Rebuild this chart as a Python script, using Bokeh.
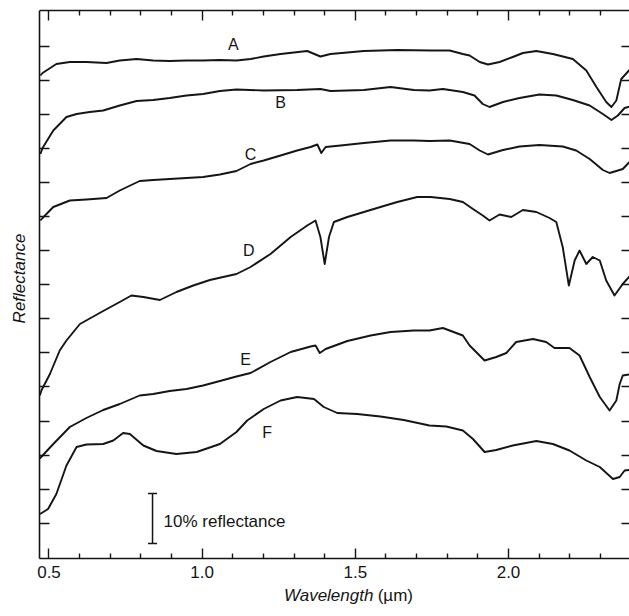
from bokeh.plotting import figure
from bokeh.models import (FixedTicker, LinearAxis, Label, Range1d, NumeralTickFormatter,
                          CustomJSTickFormatter)
from bokeh.core.properties import value
from bokeh.embed import file_html
from bokeh.resources import INLINE
import math

# ---------------- data ----------------
# wavelength in micrometres, reflectance in % (curves offset vertically)
wl_A = [0.472, 0.479, 0.524, 0.568, 0.622, 0.688, 0.731, 0.786, 0.840, 0.894, 0.949, 1.003, 1.057, 1.112,
        1.158, 1.201, 1.256, 1.343, 1.386, 1.419, 1.528, 1.637, 1.746, 1.808, 1.851, 1.873, 1.906,
        1.933, 1.971, 2.014, 2.047, 2.091, 2.145, 2.210, 2.254, 2.287, 2.319, 2.336, 2.352, 2.368, 2.395]
refl_A = [96.6, 97.1, 98.9, 99.3, 99.3, 99.1, 99.6, 99.9, 99.6, 99.5, 99.6, 99.6, 99.7, 99.6,
          99.9, 100.4, 100.9, 101.5, 100.4, 100.9, 101.5, 101.7, 101.6, 101.6, 100.9, 100.6, 99.3,
          98.8, 99.3, 100.3, 101.1, 101.5, 100.9, 99.9, 97.6, 94.3, 91.3, 90.3, 91.6, 95.9, 97.7]

wl_B = [0.472, 0.479, 0.514, 0.557, 0.590, 0.633, 0.677, 0.731, 0.786, 0.840, 0.894, 0.949, 1.003, 1.058,
        1.112, 1.201, 1.310, 1.386, 1.419, 1.528, 1.615, 1.691, 1.742, 1.786, 1.851, 1.889, 1.916,
        1.938, 1.982, 2.036, 2.101, 2.156, 2.210, 2.265, 2.308, 2.336, 2.357, 2.379, 2.395]
refl_B = [80.9, 82.1, 85.6, 88.3, 88.9, 89.3, 89.6, 90.6, 91.5, 91.7, 92.1, 92.6, 92.9, 93.5,
          93.8, 93.6, 93.7, 93.9, 93.5, 93.7, 94.3, 93.7, 93.6, 93.9, 93.3, 92.6, 90.9,
          90.3, 91.3, 92.1, 92.8, 92.6, 91.7, 90.6, 88.9, 87.7, 88.6, 90.1, 90.4]

wl_C = [0.472, 0.479, 0.514, 0.568, 0.622, 0.688, 0.731, 0.796, 0.840, 0.894, 0.949, 1.003, 1.058, 1.112,
        1.158, 1.201, 1.256, 1.310, 1.354, 1.376, 1.389, 1.403, 1.452, 1.528, 1.615, 1.691, 1.742,
        1.808, 1.873, 1.906, 1.933, 1.982, 2.036, 2.101, 2.177, 2.221, 2.265, 2.308, 2.330, 2.352,
        2.373, 2.395]
refl_C = [67.6, 68.1, 70.3, 71.6, 71.8, 72.1, 73.6, 75.5, 75.7, 75.9, 76.1, 76.3, 76.8, 77.5,
          78.9, 79.6, 80.6, 81.6, 82.3, 82.8, 81.1, 82.3, 82.6, 83.1, 83.6, 83.6, 83.5,
          83.6, 82.9, 81.6, 80.8, 81.7, 82.4, 82.7, 82.4, 81.6, 79.9, 77.7, 77.1, 77.5,
          77.9, 79.3]

wl_D = [0.470, 0.476, 0.503, 0.535, 0.557, 0.601, 0.677, 0.731, 0.769, 0.808, 0.862, 0.916, 0.971, 1.025,
        1.112, 1.158, 1.223, 1.289, 1.343, 1.370, 1.386, 1.400, 1.414, 1.430, 1.474, 1.528, 1.582,
        1.637, 1.702, 1.746, 1.808, 1.851, 1.884, 1.916, 1.938, 1.971, 2.009, 2.047, 2.091, 2.134,
        2.156, 2.177, 2.197, 2.216, 2.232, 2.254, 2.275, 2.298, 2.319, 2.346, 2.373, 2.395]
refl_D = [32.6, 33.7, 36.9, 41.6, 43.6, 46.9, 49.5, 51.3, 52.6, 52.3, 51.7, 53.3, 54.6, 55.7,
          56.9, 58.3, 60.9, 64.3, 66.6, 67.6, 64.3, 58.9, 64.3, 67.3, 68.3, 69.3, 70.3,
          71.3, 72.3, 72.3, 71.9, 71.3, 69.9, 68.6, 67.6, 68.8, 68.3, 69.7, 69.3, 68.1,
          67.3, 62.3, 54.6, 59.6, 61.6, 58.9, 60.3, 59.6, 55.6, 52.6, 54.9, 56.4]

wl_E = [0.470, 0.476, 0.514, 0.568, 0.622, 0.677, 0.731, 0.796, 0.840, 0.894, 0.949, 1.003, 1.058, 1.112,
        1.158, 1.223, 1.289, 1.354, 1.370, 1.384, 1.403, 1.474, 1.550, 1.615, 1.691, 1.742, 1.786,
        1.851, 1.873, 1.922, 1.960, 1.993, 2.025, 2.080, 2.123, 2.150, 2.199, 2.232, 2.265, 2.298,
        2.330, 2.352, 2.363, 2.373, 2.395]
refl_E = [20.0, 20.4, 22.9, 26.3, 28.1, 29.7, 30.9, 32.6, 32.9, 33.5, 33.9, 34.6, 35.5, 36.4,
          37.1, 39.3, 41.3, 42.4, 42.6, 41.1, 41.9, 43.5, 44.6, 45.3, 45.6, 45.6, 46.1,
          44.6, 42.6, 39.6, 40.3, 41.1, 43.3, 43.9, 43.3, 42.1, 42.1, 40.6, 36.3, 32.3,
          29.6, 31.6, 34.9, 36.6, 36.8]

wl_F = [0.470, 0.476, 0.497, 0.524, 0.557, 0.590, 0.622, 0.677, 0.710, 0.742, 0.764, 0.808, 0.851, 0.916,
        0.982, 1.058, 1.112, 1.147, 1.201, 1.256, 1.310, 1.365, 1.397, 1.441, 1.506, 1.582, 1.658,
        1.742, 1.797, 1.851, 1.884, 1.922, 1.960, 2.014, 2.091, 2.145, 2.199, 2.254, 2.298, 2.341,
        2.363, 2.379, 2.395]
refl_F = [8.9, 9.1, 9.9, 12.9, 18.6, 22.3, 22.8, 22.9, 23.6, 25.1, 24.9, 22.6, 21.5, 20.9,
          21.3, 22.9, 25.3, 27.6, 29.9, 31.6, 32.3, 31.9, 30.3, 29.1, 28.9, 28.4, 27.7,
          26.6, 26.4, 25.6, 23.9, 21.3, 21.7, 22.6, 23.5, 22.9, 21.6, 19.6, 18.3, 15.9,
          16.3, 17.6, 17.7]

curve_names = ["A", "B", "C", "D", "E", "F"]
label_x = [1.102, 1.256, 1.158, 1.152, 1.142, 1.212]
label_y = [102.9, 91.3, 80.9, 61.6, 39.9, 25.3]

x_major_ticks = [0.5, 1.0, 1.5, 2.0]
x_minor_ticks = [0.6, 0.7, 0.8, 0.9, 1.1, 1.2, 1.3, 1.4, 1.6, 1.7, 1.8, 1.9, 2.1, 2.2, 2.3]
y_ticks = [7.0, 13.8, 20.6, 27.4, 34.4, 41.2, 48.0, 54.8, 61.6, 68.4, 75.2, 82.0, 88.9, 95.7, 102.4]

scale_bar_x = 0.838
scale_bar_low = 3.0
scale_bar_high = 13.0        # 10 % reflectance
scale_bar_text = "10% reflectance"

x_title = "Wavelength"
x_unit = "(µm)"
y_title = "Reflectance"

# ---------------- figure ----------------
FONT = "Liberation Sans"
INK = "#151515"
X_LEFT, X_RIGHT = 0.469, 2.395     # extent of the boxed plot area
Y_BOTTOM, Y_TOP = 0.0, 109.6

# the frame is widened to the whole canvas so that titles/tick labels around the box
# are drawn inside it; the axes are pinned to the box edges with fixed_location
p = figure(width=629, height=616, output_backend="svg", toolbar_location=None,
           x_range=Range1d(0.3417, X_RIGHT), y_range=Range1d(-11.6, Y_TOP),
           min_border_left=0, min_border_right=0, min_border_top=10, min_border_bottom=0)
p.grid.visible = False
p.outline_line_color = None
p.background_fill_color = "white"
p.border_fill_color = "white"

blank = CustomJSTickFormatter(code="return ''")

def style_axis(ax, tick_in, minor_in, show_line=True):
    ax.major_tick_in = tick_in
    ax.major_tick_out = 0
    ax.minor_tick_in = minor_in
    ax.minor_tick_out = 0
    ax.major_tick_line_color = INK
    ax.major_tick_line_width = 1.4
    ax.minor_tick_line_color = INK if minor_in else None
    ax.minor_tick_line_width = 1.4
    ax.axis_line_color = INK if show_line else None
    ax.axis_line_width = 1.6

bx = p.xaxis[0]
bx.ticker = FixedTicker(ticks=x_major_ticks, minor_ticks=x_minor_ticks)
bx.formatter = NumeralTickFormatter(format="0.0")
bx.fixed_location = Y_BOTTOM
bx.bounds = (X_LEFT, X_RIGHT)
style_axis(bx, 10, 5)
bx.major_label_text_font = FONT
bx.major_label_text_font_size = "17px"
bx.major_label_text_color = INK
bx.major_label_standoff = 7

ly = p.yaxis[0]
ly.ticker = FixedTicker(ticks=y_ticks, minor_ticks=[])
ly.formatter = blank
ly.fixed_location = X_LEFT
ly.bounds = (Y_BOTTOM, Y_TOP)
style_axis(ly, 10, 0)
ly.major_label_standoff = 0

top = LinearAxis(ticker=FixedTicker(ticks=x_major_ticks, minor_ticks=x_minor_ticks), formatter=blank,
                 bounds=(X_LEFT, X_RIGHT))
style_axis(top, 10, 5)
top.major_label_standoff = 0
p.add_layout(top, "above")

right = LinearAxis(ticker=FixedTicker(ticks=y_ticks, minor_ticks=[]), formatter=blank,
                   bounds=(Y_BOTTOM, Y_TOP))
style_axis(right, 8, 0, show_line=False)
right.major_label_standoff = 0
p.add_layout(right, "right")

# spectra
for wl, rf in [(wl_A, refl_A), (wl_B, refl_B), (wl_C, refl_C),
               (wl_D, refl_D), (wl_E, refl_E), (wl_F, refl_F)]:
    p.line(wl, rf, line_color=INK, line_width=1.9, line_join="round")

# curve letters
p.text(x=label_x, y=label_y, text=curve_names, text_font=value(FONT),
       text_font_size="16px", text_align="center", text_baseline="middle", text_color=INK)

# scale bar
p.segment(x0=[scale_bar_x], y0=[scale_bar_low], x1=[scale_bar_x], y1=[scale_bar_high],
          line_color=INK, line_width=1.5)
p.scatter(x=[scale_bar_x, scale_bar_x], y=[scale_bar_low, scale_bar_high], marker="dash",
          size=9, line_color=INK, line_width=1.5)
p.text(x=[scale_bar_x + 0.036], y=[(scale_bar_low + scale_bar_high) / 2 - 0.6], text=[scale_bar_text],
       text_font=value(FONT), text_font_size="17px", text_align="left", text_baseline="middle",
       text_color=INK)

# x title: italic word + upright unit, below the axis
p.add_layout(Label(x=1.559, y=-7.4, text=x_title, text_font=FONT, text_font_size="17px",
                   text_font_style="italic", text_align="right", text_baseline="middle",
                   text_color=INK))
p.add_layout(Label(x=1.573, y=-7.4, text=x_unit, text_font=FONT, text_font_size="17px",
                   text_align="left", text_baseline="middle", text_color=INK))

# y title, rotated, left of the box
p.add_layout(Label(x=0.404, y=56.0, text=y_title, text_font=FONT, text_font_size="17px",
                   text_font_style="italic", text_align="center", text_baseline="middle",
                   angle=math.pi / 2, text_color=INK))

open("out.html", "w").write(file_html(p, INLINE))
